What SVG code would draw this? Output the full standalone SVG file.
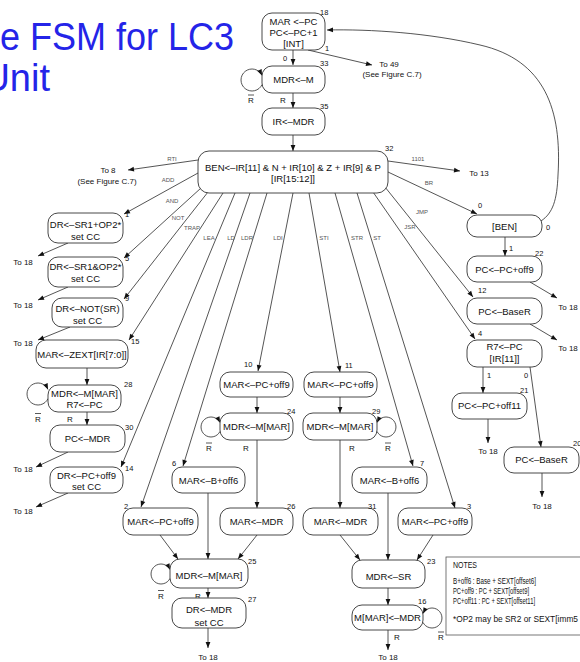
<svg xmlns="http://www.w3.org/2000/svg" width="580" height="662" viewBox="0 0 580 662">
<defs>
<style>
.b{fill:#fff;stroke:#333;stroke-width:.9}
text{font-family:"Liberation Sans",Arial,sans-serif;fill:#111}
.t{font-size:9.5px;text-anchor:middle}
.n{font-size:7.5px}
.e{font-size:6px;fill:#555;text-anchor:middle}
.o{font-size:8px;text-anchor:middle}
.r{font-size:8px;text-anchor:middle}
.c line,.c path{stroke:#2a2a2a;stroke-width:.8;fill:none;marker-end:url(#a)}
.ov{stroke:#111;stroke-width:.7}
.title{font-size:38px;fill:#2424e8}
.nt{font-size:8.5px}
</style>
<marker id="a" viewBox="0 0 10 10" refX="10" refY="5" markerWidth="7" markerHeight="6" orient="auto" markerUnits="userSpaceOnUse"><path d="M0,1 L10,5 L0,9 z" fill="#111"/></marker>
</defs>
<rect width="580" height="662" fill="#fff"/>
<g id="title">
<text class="title" x="0" y="50" textLength="234" lengthAdjust="spacingAndGlyphs">e FSM for LC3</text>
<text class="title" x="50" y="91" text-anchor="end">Unit</text>
</g>
<g id="connectors" class="c">
<line x1="293" y1="50" x2="293" y2="65"/>
<line x1="308" y1="50" x2="372" y2="65"/>
<line x1="293" y1="93" x2="293" y2="108"/>
<line x1="293" y1="135" x2="293" y2="151"/>
<path d="M541,221 C553,213 557,200 558,175 C562,110 545,60 480,45 C430,33 370,29 327,30"/>
<path d="M262,84.6 A11,11 0 1,1 262,75.4"/>
<line x1="198" y1="160" x2="128" y2="170"/>
<line x1="198" y1="173" x2="124" y2="214"/>
<line x1="201" y1="188" x2="124" y2="258"/>
<line x1="208" y1="192" x2="124" y2="299"/>
<line x1="223" y1="193" x2="129" y2="340"/>
<line x1="235" y1="193" x2="121" y2="467"/>
<line x1="250" y1="193" x2="141" y2="507"/>
<line x1="267" y1="193" x2="183" y2="466"/>
<line x1="293" y1="193" x2="258" y2="371"/>
<line x1="309" y1="193" x2="340" y2="372"/>
<line x1="335" y1="193" x2="413" y2="466"/>
<line x1="357" y1="193" x2="455" y2="508"/>
<line x1="373" y1="192" x2="475" y2="339"/>
<line x1="385" y1="187" x2="473" y2="297"/>
<line x1="388" y1="172" x2="477" y2="214"/>
<line x1="388" y1="161" x2="460" y2="171"/>
<line x1="68" y1="243" x2="38" y2="256"/>
<line x1="68" y1="287" x2="38" y2="300"/>
<line x1="70" y1="327" x2="38" y2="340"/>
<line x1="87" y1="368" x2="87" y2="385"/>
<path d="M48,398.6 A11,11 0 1,1 48,389.4"/>
<line x1="87" y1="412" x2="87" y2="425"/>
<line x1="68" y1="452" x2="36" y2="467"/>
<line x1="68" y1="493" x2="36" y2="507"/>
<line x1="257" y1="397" x2="257" y2="413"/>
<path d="M220,431.4 A10,10 0 1,1 220,422.6"/>
<line x1="257" y1="440" x2="257" y2="508"/>
<line x1="340" y1="397" x2="340" y2="413"/>
<path d="M377,431.4 A10,10 0 1,0 377,422.6"/>
<line x1="340" y1="440" x2="340" y2="508"/>
<line x1="160" y1="535" x2="178" y2="559"/>
<line x1="208" y1="493" x2="208" y2="559"/>
<line x1="257" y1="535" x2="238" y2="559"/>
<path d="M170,578.4 A10,10 0 1,1 170,569.6"/>
<line x1="208" y1="588" x2="208" y2="598"/>
<line x1="208" y1="628" x2="208" y2="648"/>
<line x1="340" y1="535" x2="360" y2="560"/>
<line x1="388" y1="493" x2="388" y2="560"/>
<line x1="433" y1="535" x2="417" y2="560"/>
<line x1="388" y1="588" x2="388" y2="605"/>
<path d="M423,622.4 A10,10 0 1,0 423,613.6"/>
<line x1="388" y1="630" x2="388" y2="650"/>
<line x1="505" y1="237" x2="505" y2="256"/>
<line x1="530" y1="282" x2="557" y2="298"/>
<line x1="530" y1="324" x2="557" y2="340"/>
<line x1="483" y1="367" x2="483" y2="393"/>
<line x1="530" y1="367" x2="541" y2="447"/>
<line x1="488" y1="419" x2="488" y2="443"/>
<line x1="542" y1="473" x2="542" y2="497"/>
</g>
<g id="edge-labels">
<text class="n" x="285" y="61" text-anchor="middle">0</text>
<text class="n" x="327" y="51" text-anchor="middle">1</text>
<text class="o" x="389" y="67">To 49</text>
<text class="o" x="392" y="77">(See Figure C.7)</text>
<text class="o" x="108" y="173">To 8</text>
<text class="o" x="107" y="184">(See Figure C.7)</text>
<text class="o" x="479" y="176">To 13</text>
<text class="e" x="172" y="161">RTI</text>
<text class="e" x="168" y="182">ADD</text>
<text class="e" x="172" y="203">AND</text>
<text class="e" x="178" y="220">NOT</text>
<text class="e" x="192" y="230">TRAP</text>
<text class="e" x="209" y="240">LEA</text>
<text class="e" x="231" y="240">LD</text>
<text class="e" x="247" y="240">LDR</text>
<text class="e" x="278" y="240">LDI</text>
<text class="e" x="324" y="240">STI</text>
<text class="e" x="357" y="240">STR</text>
<text class="e" x="377" y="240">ST</text>
<text class="e" x="410" y="229">JSR</text>
<text class="e" x="422" y="214">JMP</text>
<text class="e" x="429" y="185">BR</text>
<text class="e" x="418" y="161">1101</text>
<text class="n" x="478" y="208">0</text>
<text class="n" x="546" y="230">0</text>
<text class="n" x="509" y="251">1</text>
<text class="n" x="487" y="378">1</text>
<text class="n" x="524" y="378">0</text>
<text class="o" x="23" y="265">To 18</text>
<text class="o" x="23" y="308">To 18</text>
<text class="o" x="23" y="346">To 18</text>
<text class="o" x="23" y="472">To 18</text>
<text class="o" x="23" y="514">To 18</text>
<text class="o" x="568" y="310">To 18</text>
<text class="o" x="568" y="351">To 18</text>
<text class="o" x="488" y="454">To 18</text>
<text class="o" x="542" y="509">To 18</text>
<text class="o" x="208" y="660">To 18</text>
<text class="o" x="388" y="660">To 18</text>
<text class="r" x="251" y="103">R</text><line class="ov" x1="248" y1="95" x2="254" y2="95"/>
<text class="r" x="283" y="103">R</text>
<text class="r" x="38" y="421.5">R</text><line class="ov" x1="35" y1="413.5" x2="41" y2="413.5"/>
<text class="r" x="70" y="421.5">R</text>
<text class="r" x="209" y="451">R</text><line class="ov" x1="206" y1="443" x2="212" y2="443"/>
<text class="r" x="246" y="451">R</text>
<text class="r" x="352" y="451">R</text>
<text class="r" x="388" y="451">R</text><line class="ov" x1="385" y1="443" x2="391" y2="443"/>
<text class="r" x="161" y="598.5">R</text><line class="ov" x1="158" y1="590.5" x2="164" y2="590.5"/>
<text class="r" x="198" y="598.5">R</text>
<text class="r" x="397" y="640">R</text>
<text class="r" x="441" y="640">R</text><line class="ov" x1="438" y1="632" x2="444" y2="632"/>
</g>
<g id="s18"><rect class="b" x="262" y="13" width="63" height="37" rx="10"/><text class="t" x="293.5" y="24.5">MAR &lt;–PC</text><text class="t" x="293.5" y="35.5">PC&lt;–PC+1</text><text class="t" x="293.5" y="46.5">[INT]</text><text class="n" x="320" y="15">18</text></g>
<g id="s33"><rect class="b" x="262" y="66" width="63" height="27" rx="10"/><text class="t" x="293.5" y="83">MDR&lt;–M</text><text class="n" x="320" y="66">33</text></g>
<g id="s35"><rect class="b" x="262" y="108" width="63" height="27" rx="10"/><text class="t" x="293.5" y="125">IR&lt;–MDR</text><text class="n" x="320" y="109">35</text></g>
<g id="s32"><rect class="b" x="198" y="151" width="190" height="42" rx="11"/><text class="t" x="293" y="170.5">BEN&lt;–IR[11] &amp; N + IR[10] &amp; Z + IR[9] &amp; P</text><text class="t" x="293" y="181.5">[IR[15:12]]</text><text class="n" x="385" y="151">32</text></g>
<g id="s1"><rect class="b" x="48" y="213" width="75" height="30" rx="10"/><text class="t" x="85.5" y="228">DR&lt;–SR1+OP2*</text><text class="t" x="85.5" y="239.5">set CC</text><text class="n" x="125" y="217">1</text></g>
<g id="s5"><rect class="b" x="48" y="257" width="75" height="30" rx="10"/><text class="t" x="85.5" y="270">DR&lt;–SR1&amp;OP2*</text><text class="t" x="85.5" y="281.5">set CC</text><text class="n" x="125" y="261">5</text></g>
<g id="s9"><rect class="b" x="52" y="298" width="71" height="29" rx="10"/><text class="t" x="87.5" y="311.5">DR&lt;–NOT(SR)</text><text class="t" x="87.5" y="323.5">set CC</text><text class="n" x="125" y="301">9</text></g>
<g id="s15"><rect class="b" x="36" y="340" width="92" height="28" rx="10"/><text class="t" x="82" y="358">MAR&lt;–ZEXT[IR[7:0]]</text><text class="n" x="131" y="344">15</text></g>
<g id="s28"><rect class="b" x="48" y="385" width="73" height="27" rx="10"/><text class="t" x="84.5" y="397">MDR&lt;–M[MAR]</text><text class="t" x="84.5" y="407.5">R7&lt;–PC</text><text class="n" x="124" y="387">28</text></g>
<g id="s30"><rect class="b" x="50" y="425" width="75" height="27" rx="10"/><text class="t" x="87.5" y="441.5">PC&lt;–MDR</text><text class="n" x="125" y="429.5">30</text></g>
<g id="s14"><rect class="b" x="50" y="467" width="73" height="26" rx="10"/><text class="t" x="86.5" y="478.5">DR&lt;–PC+off9</text><text class="t" x="86.5" y="490">set CC</text><text class="n" x="125" y="471">14</text></g>
<g id="s10"><rect class="b" x="220" y="372" width="73" height="25" rx="10"/><text class="t" x="256.5" y="388">MAR&lt;–PC+off9</text><text class="n" x="244" y="367">10</text></g>
<g id="s24"><rect class="b" x="220" y="413" width="73" height="27" rx="10"/><text class="t" x="256.5" y="430">MDR&lt;–M[MAR]</text><text class="n" x="287" y="414">24</text></g>
<g id="s26"><rect class="b" x="220" y="508" width="73" height="27" rx="10"/><text class="t" x="256.5" y="525">MAR&lt;–MDR</text><text class="n" x="287" y="509">26</text></g>
<g id="s6"><rect class="b" x="172" y="467" width="73" height="26" rx="10"/><text class="t" x="208.5" y="483.5">MAR&lt;–B+off6</text><text class="n" x="172" y="466">6</text></g>
<g id="s2"><rect class="b" x="123" y="508" width="75" height="27" rx="10"/><text class="t" x="160.5" y="525">MAR&lt;–PC+off9</text><text class="n" x="124" y="509">2</text></g>
<g id="s11"><rect class="b" x="304" y="372" width="73" height="25" rx="10"/><text class="t" x="340.5" y="388">MAR&lt;–PC+off9</text><text class="n" x="345" y="368">11</text></g>
<g id="s29"><rect class="b" x="303" y="413" width="74" height="27" rx="10"/><text class="t" x="340" y="430">MDR&lt;–M[MAR]</text><text class="n" x="372" y="414">29</text></g>
<g id="s31"><rect class="b" x="303" y="508" width="75" height="27" rx="10"/><text class="t" x="340.5" y="525">MAR&lt;–MDR</text><text class="n" x="368" y="509">31</text></g>
<g id="s7"><rect class="b" x="352" y="467" width="75" height="26" rx="10"/><text class="t" x="389.5" y="483.5">MAR&lt;–B+off6</text><text class="n" x="420" y="466">7</text></g>
<g id="s3"><rect class="b" x="398" y="508" width="74" height="27" rx="10"/><text class="t" x="435" y="525">MAR&lt;–PC+off9</text><text class="n" x="467" y="509">3</text></g>
<g id="s0"><rect class="b" x="467" y="215" width="75" height="22" rx="10"/><text class="t" x="504.5" y="230">[BEN]</text></g>
<g id="s22"><rect class="b" x="467" y="256" width="75" height="26" rx="10"/><text class="t" x="504.5" y="272.5">PC&lt;–PC+off9</text><text class="n" x="535" y="256">22</text></g>
<g id="s12"><rect class="b" x="467" y="298" width="75" height="26" rx="10"/><text class="t" x="504.5" y="315">PC&lt;–BaseR</text><text class="n" x="478" y="293">12</text></g>
<g id="s4"><rect class="b" x="467" y="340" width="75" height="27" rx="10"/><text class="t" x="504.5" y="350">R7&lt;–PC</text><text class="t" x="504.5" y="361.5">[IR[11]]</text><text class="n" x="478" y="336">4</text></g>
<g id="s21"><rect class="b" x="452" y="393" width="75" height="26" rx="10"/><text class="t" x="489.5" y="409">PC&lt;–PC+off11</text><text class="n" x="520" y="393">21</text></g>
<g id="s20"><rect class="b" x="504" y="447" width="75" height="26" rx="10"/><text class="t" x="541.5" y="463">PC&lt;–BaseR</text><text class="n" x="573" y="446">20</text></g>
<g id="s25"><rect class="b" x="170" y="559" width="78" height="29" rx="10"/><text class="t" x="209" y="579">MDR&lt;–M[MAR]</text><text class="n" x="248" y="564">25</text></g>
<g id="s27"><rect class="b" x="172" y="598" width="74" height="30" rx="10"/><text class="t" x="209" y="612.5">DR&lt;–MDR</text><text class="t" x="209" y="626">set CC</text><text class="n" x="248" y="602">27</text></g>
<g id="s23"><rect class="b" x="352" y="560" width="73" height="28" rx="10"/><text class="t" x="388.5" y="580">MDR&lt;–SR</text><text class="n" x="427" y="564">23</text></g>
<g id="s16"><rect class="b" x="352" y="605" width="71" height="25" rx="10"/><text class="t" x="387.5" y="621">M[MAR]&lt;–MDR</text><text class="n" x="418" y="604">16</text></g>
<g id="notes">
<rect x="446" y="557" width="140" height="78" fill="#fff" stroke="#555" stroke-width=".8"/>
<text x="453" y="568" font-size="9.5" textLength="24" lengthAdjust="spacingAndGlyphs">NOTES</text>
<text class="nt" x="453" y="584" textLength="83" lengthAdjust="spacingAndGlyphs">B+off6 : Base + SEXT[offset6]</text>
<text class="nt" x="453" y="594" textLength="76" lengthAdjust="spacingAndGlyphs">PC+off9 : PC + SEXT[offset9]</text>
<text class="nt" x="453" y="604" textLength="82" lengthAdjust="spacingAndGlyphs">PC+off11 : PC + SEXT[offset11]</text>
<text class="nt" x="453" y="622" textLength="125" lengthAdjust="spacingAndGlyphs">*OP2 may be SR2 or SEXT[imm5</text>
</g>
</svg>
